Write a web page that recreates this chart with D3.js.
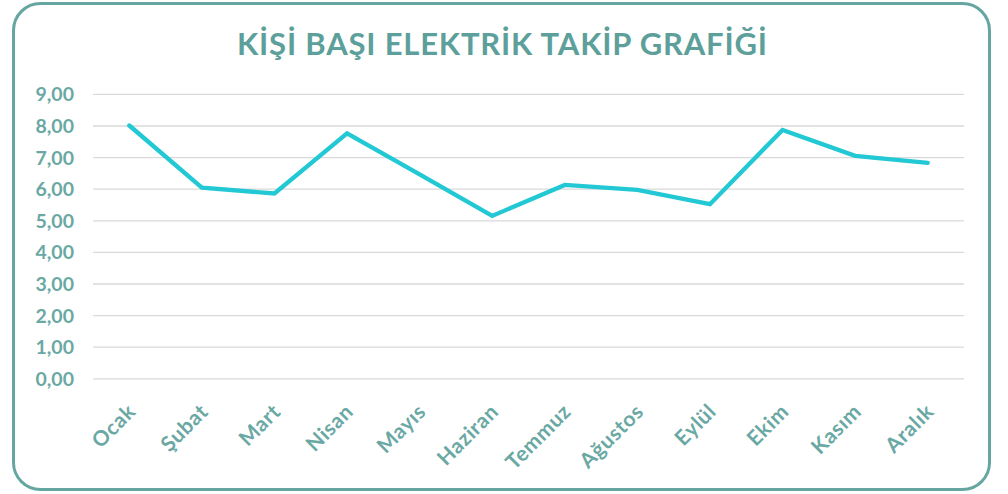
<!DOCTYPE html>
<html><head><meta charset="utf-8">
<script src="https://cdn.jsdelivr.net/npm/d3@7"></script>
<style>
html,body{margin:0;padding:0;background:#fff;}
svg{display:block;}
</style></head>
<body>
<svg id="c" width="1008" height="494"></svg>
<script>
const title = "KİŞİ BAŞI ELEKTRİK TAKİP GRAFİĞİ";
const months = ["Ocak","Şubat","Mart","Nisan","Mayıs","Haziran","Temmuz","Ağustos","Eylül","Ekim","Kasım","Aralık"];
const values = [8.00,6.03,5.85,7.75,6.45,5.14,6.12,5.96,5.51,7.86,7.04,6.82];
const yTicks = [0,1,2,3,4,5,6,7,8,9];

const svg = d3.select("#c");
const teal = "#5d9f9b";
const font = "Lato, 'Open Sans', sans-serif";

svg.append("rect").attr("x",13.5).attr("y",3.5).attr("width",976).attr("height",486)
  .attr("rx",27).attr("ry",27).attr("fill","#fff").attr("stroke","#66a6a1").attr("stroke-width",3);

svg.append("text").attr("x",502).attr("y",55).attr("text-anchor","middle")
  .attr("font-family",font).attr("font-weight",700).attr("font-size",31)
  .attr("fill",teal).attr("textLength",530).attr("lengthAdjust","spacing")
  .text(title);

const x = d3.scalePoint().domain(months).range([93,964]).padding(0.5);
const y = d3.scaleLinear().domain([0,9]).range([378.3,93.9]);

// gridlines
const gy = svg.append("g").attr("transform","translate(93,0)")
  .call(d3.axisLeft(y).tickValues(yTicks).tickSize(-871).tickFormat(""));
gy.select(".domain").remove();
gy.selectAll(".tick line").attr("stroke","#d9d9d9").attr("stroke-width",1.3);

// y labels
const yl = svg.append("g").attr("transform","translate(74,0)")
  .call(d3.axisLeft(y).tickValues(yTicks).tickSize(0).tickPadding(0)
    .tickFormat(d => d3.format(".2f")(d).replace(".",",")));
yl.select(".domain").remove();
yl.selectAll("text").attr("font-family",font).attr("font-weight",700).attr("font-size",19.5)
  .attr("fill","#6aa8a4").attr("dy","0.36em");

// x labels
const xl = svg.append("g").attr("transform","translate(0,390)")
  .call(d3.axisBottom(x).tickSize(0).tickPadding(0));
xl.select(".domain").remove();
xl.selectAll("text").attr("font-family",font).attr("font-weight",700).attr("font-size",21)
  .attr("letter-spacing","0.6px")
  .attr("fill","#6aa8a4").attr("text-anchor","end").attr("dy",0).attr("y",0)
  .attr("transform","translate(7,23) rotate(-45)");

// line
const line = d3.line().x((d,i)=>x(months[i])).y(d=>y(d));
svg.append("path").datum(values).attr("d",line).attr("fill","none")
  .attr("stroke","#22c8d3").attr("stroke-width",4.3).attr("stroke-linejoin","miter").attr("stroke-linecap","round");
</script>
</body></html>
